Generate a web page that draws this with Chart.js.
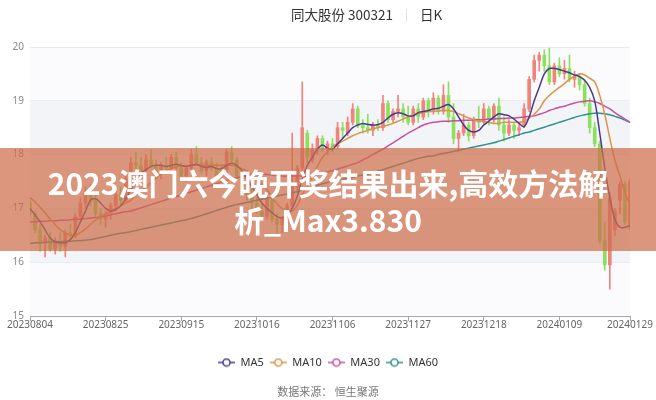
<!DOCTYPE html>
<html>
<head>
<meta charset="utf-8">
<script src="https://cdn.jsdelivr.net/npm/chart.js@4.4.1/dist/chart.umd.min.js"></script>
<style>
  html, body { margin: 0; padding: 0; background: #fff; }
  #wrap { position: relative; width: 656px; height: 400px; font-family: "Noto Sans CJK SC", "Noto Sans", sans-serif; overflow: hidden; }
  #chart { position: absolute; left: 0; top: 0; }
  .title { position: absolute; top: 5px; left: 291px; font-size: 13.5px; color: #333; white-space: nowrap; line-height: 18px; }
  .title .sep { display: inline-block; width: 1px; height: 13px; background: #e2e2e2; margin: 0 13px; vertical-align: -2px; }
  .banner { position: absolute; left: 0; top: 148px; width: 656px; height: 103px; box-sizing: border-box; padding-top: 16px;
            background: rgba(205,110,75,0.72); color: #fff; font-weight: bold; font-size: 30px; line-height: 37px; text-align: center; }
  .source { position: absolute; top: 383px; left: 0; width: 656px; text-align: center; font-size: 11px; color: #777; }
</style>
</head>
<body>
<div id="wrap">
  <canvas id="chart" width="656" height="400"></canvas>
  <div class="title">同大股份 300321<span class="sep"></span>日K</div>
  <div class="banner">2023澳门六今晚开奖结果出来,高效方法解<br>析_Max3.830</div>
  <div class="source">数据来源：&nbsp;恒生聚源</div>
</div>
<script>
// trading calendar: 20230804 .. 20240129, exchange holidays skipped
var startDay = '20230804', endDay = '20240129';
var holidays = ['20230929', '20231002', '20231003', '20231004', '20231005', '20231006', '20240101'];
var tickLabels = ['20230804', '20230825', '20230915', '20231016', '20231106', '20231127', '20231218', '20240109', '20240129'];

function fmt(d) {
    var m = d.getMonth() + 1, day = d.getDate();
    return d.getFullYear() + (m < 10 ? '0' : '') + m + (day < 10 ? '0' : '') + day;
}
var dates = [];
for (var d = new Date(2023, 7, 4); fmt(d) <= endDay; d.setDate(d.getDate() + 1)) {
    var wd = d.getDay();
    if (wd === 0 || wd === 6 || holidays.indexOf(fmt(d)) >= 0) continue;
    dates.push(fmt(d));
}

// daily K values
var opens = [
    17.10, 16.90, 16.60, 16.35, 16.45, 16.25, 16.40, 16.30, 16.55, 16.50,
    16.85, 17.10, 17.30, 17.15, 16.90, 16.80, 16.90, 17.05, 17.25, 17.15,
    17.55, 17.85, 17.80, 17.70, 17.90, 17.80, 17.65, 17.80, 17.75, 17.95,
    17.75, 17.60, 17.75, 18.00, 17.85, 17.70, 17.85, 17.75, 17.60, 17.70,
    18.05, 17.90, 17.60, 17.35, 17.25, 17.10, 16.95, 16.85, 17.20, 16.80,
    16.70, 16.80, 17.05, 17.40, 17.75, 18.40, 17.90, 18.10, 18.30, 18.10,
    18.20, 18.15, 18.50, 18.40, 18.60, 18.85, 18.55, 18.50, 18.45, 18.55,
    18.50, 18.95, 18.65, 18.80, 18.85, 18.70, 18.60, 18.85, 18.70, 19.00,
    18.80, 19.05, 18.80, 19.10, 18.70, 18.30, 18.40, 18.55, 18.35, 18.65,
    18.60, 18.85, 18.65, 18.90, 18.55, 18.40, 18.55, 18.45, 18.55, 18.85,
    19.40, 19.75, 19.85, 19.65, 19.35, 19.65, 19.50, 19.60, 19.40, 19.45,
    19.30, 18.95, 18.50, 18.20, 16.40, 15.95, 16.60, 17.15, 17.45, 16.70
];
var highs = [
    17.15, 16.95, 16.70, 16.50, 16.55, 16.45, 16.55, 16.60, 16.70, 16.90,
    17.20, 17.40, 17.45, 17.25, 17.00, 16.95, 17.10, 17.35, 17.40, 17.60,
    17.95, 18.05, 17.95, 18.00, 18.10, 17.90, 17.85, 17.95, 18.00, 18.05,
    17.85, 17.80, 18.10, 18.15, 17.95, 17.90, 17.95, 17.85, 17.80, 18.10,
    18.15, 17.95, 17.70, 17.50, 17.35, 17.20, 17.10, 17.30, 17.25, 16.90,
    16.85, 17.10, 18.40, 17.80, 19.35, 18.45, 18.20, 18.35, 18.35, 18.25,
    18.30, 18.60, 18.60, 18.70, 18.95, 18.90, 18.65, 18.75, 18.60, 18.65,
    19.10, 19.00, 18.85, 19.10, 18.95, 18.90, 18.90, 18.95, 19.05, 19.05,
    19.15, 19.10, 19.30, 19.35, 18.95, 18.45, 18.75, 18.60, 18.70, 18.90,
    18.95, 18.90, 18.95, 19.05, 18.70, 18.65, 18.60, 18.60, 18.95, 19.45,
    19.85, 19.90, 19.95, 19.98, 19.70, 19.80, 19.75, 19.85, 19.55, 19.50,
    19.40, 19.05, 18.60, 18.25, 16.75, 17.30, 17.00, 17.50, 17.50, 17.55
];
var lows = [
    16.85, 16.55, 16.20, 16.10, 16.20, 16.15, 16.20, 16.10, 16.40, 16.45,
    16.80, 17.00, 17.05, 16.85, 16.70, 16.65, 16.80, 16.95, 17.05, 17.10,
    17.50, 17.70, 17.60, 17.65, 17.75, 17.55, 17.55, 17.65, 17.70, 17.70,
    17.55, 17.50, 17.70, 17.80, 17.65, 17.60, 17.70, 17.55, 17.50, 17.65,
    17.85, 17.55, 17.30, 17.15, 17.00, 16.90, 16.80, 16.80, 16.75, 16.55,
    16.55, 16.75, 17.00, 17.30, 17.70, 17.85, 17.85, 18.00, 18.05, 18.00,
    18.05, 18.10, 18.30, 18.35, 18.55, 18.50, 18.40, 18.40, 18.35, 18.45,
    18.45, 18.60, 18.60, 18.70, 18.60, 18.55, 18.55, 18.60, 18.65, 18.70,
    18.75, 18.75, 18.75, 18.60, 18.20, 18.05, 18.35, 18.25, 18.30, 18.50,
    18.55, 18.55, 18.60, 18.45, 18.25, 18.35, 18.30, 18.35, 18.50, 18.80,
    19.35, 19.55, 19.55, 19.30, 19.30, 19.45, 19.40, 19.35, 19.25, 19.20,
    18.90, 18.40, 18.15, 16.35, 15.85, 15.50, 16.50, 16.90, 16.70, 16.60
];
var closes = [
    16.90, 16.60, 16.35, 16.45, 16.25, 16.40, 16.30, 16.55, 16.50, 16.85,
    17.10, 17.30, 17.15, 16.90, 16.80, 16.90, 17.05, 17.25, 17.15, 17.55,
    17.85, 17.80, 17.70, 17.90, 17.80, 17.65, 17.80, 17.75, 17.95, 17.75,
    17.60, 17.75, 18.00, 17.85, 17.70, 17.85, 17.75, 17.60, 17.70, 18.05,
    17.90, 17.60, 17.35, 17.25, 17.10, 16.95, 16.85, 17.20, 16.80, 16.70,
    16.80, 17.05, 17.40, 17.75, 18.50, 17.95, 18.10, 18.30, 18.10, 18.20,
    18.15, 18.50, 18.45, 18.60, 18.85, 18.55, 18.50, 18.45, 18.55, 18.50,
    18.95, 18.65, 18.80, 18.85, 18.70, 18.60, 18.85, 18.70, 19.00, 18.80,
    19.05, 18.80, 19.10, 18.70, 18.30, 18.40, 18.55, 18.35, 18.65, 18.60,
    18.85, 18.65, 18.90, 18.55, 18.40, 18.55, 18.45, 18.50, 18.85, 19.40,
    19.75, 19.85, 19.65, 19.35, 19.65, 19.50, 19.60, 19.40, 19.45, 19.30,
    18.95, 18.50, 18.20, 16.40, 15.95, 17.20, 16.95, 17.45, 16.75, 17.50
];

// moving averages
var ma5 = [
    17.00, 16.88, 16.75, 16.60, 16.45, 16.38, 16.36, 16.36, 16.42, 16.55,
    16.75, 16.95, 17.15, 17.18, 17.10, 17.00, 16.95, 16.98, 17.05, 17.18,
    17.35, 17.50, 17.65, 17.72, 17.78, 17.80, 17.80, 17.78, 17.80, 17.82,
    17.80, 17.78, 17.80, 17.82, 17.78, 17.76, 17.78, 17.74, 17.74, 17.80,
    17.84, 17.80, 17.70, 17.55, 17.40, 17.25, 17.10, 17.00, 16.92, 16.85,
    16.82, 16.88, 17.00, 17.22, 17.55, 17.80, 17.95, 18.10, 18.18, 18.12,
    18.10, 18.20, 18.30, 18.40, 18.50, 18.55, 18.58, 18.56, 18.55, 18.56,
    18.60, 18.68, 18.75, 18.78, 18.76, 18.72, 18.72, 18.78, 18.80, 18.82,
    18.85, 18.86, 18.90, 18.93, 18.85, 18.70, 18.55, 18.45, 18.42, 18.45,
    18.55, 18.62, 18.70, 18.76, 18.74, 18.72, 18.66, 18.58, 18.52, 18.70,
    19.00, 19.25, 19.50, 19.60, 19.60, 19.58, 19.55, 19.52, 19.48, 19.45,
    19.38, 19.25, 19.00, 18.40, 17.75, 17.20, 16.80, 16.65, 16.65, 16.68
];
var ma10 = [
    17.20, 17.12, 17.02, 16.92, 16.80, 16.70, 16.60, 16.55, 16.50, 16.50,
    16.55, 16.62, 16.70, 16.78, 16.85, 16.90, 16.95, 17.00, 17.05, 17.10,
    17.15, 17.25, 17.32, 17.40, 17.48, 17.56, 17.65, 17.70, 17.74, 17.78,
    17.78, 17.79, 17.80, 17.80, 17.80, 17.80, 17.80, 17.80, 17.80, 17.80,
    17.80, 17.78, 17.74, 17.70, 17.62, 17.55, 17.45, 17.35, 17.20, 17.08,
    17.00, 16.96, 16.95, 17.05, 17.25, 17.42, 17.60, 17.78, 17.95, 18.05,
    18.15, 18.20, 18.25, 18.30, 18.35, 18.39, 18.42, 18.45, 18.48, 18.50,
    18.52, 18.55, 18.58, 18.62, 18.66, 18.70, 18.74, 18.76, 18.78, 18.80,
    18.80, 18.81, 18.82, 18.82, 18.80, 18.76, 18.72, 18.68, 18.65, 18.62,
    18.62, 18.60, 18.58, 18.58, 18.60, 18.60, 18.60, 18.60, 18.62, 18.68,
    18.75, 18.85, 19.00, 19.10, 19.18, 19.25, 19.32, 19.40, 19.46, 19.50,
    19.48, 19.42, 19.35, 19.10, 18.75, 18.30, 17.90, 17.60, 17.30, 17.05
];
var ma30 = [
    16.75, 16.75, 16.76, 16.76, 16.77, 16.77, 16.78, 16.78, 16.79, 16.80,
    16.80, 16.81, 16.82, 16.83, 16.84, 16.86, 16.88, 16.90, 16.92, 16.94,
    16.95, 16.98, 17.01, 17.04, 17.07, 17.10, 17.13, 17.16, 17.20, 17.22,
    17.25, 17.28, 17.31, 17.34, 17.37, 17.40, 17.43, 17.46, 17.49, 17.52,
    17.55, 17.57, 17.59, 17.61, 17.63, 17.65, 17.64, 17.63, 17.62, 17.61,
    17.60, 17.60, 17.60, 17.60, 17.60, 17.60, 17.62, 17.64, 17.66, 17.68,
    17.70, 17.73, 17.76, 17.79, 17.82, 17.85, 17.90, 17.95, 18.00, 18.05,
    18.10, 18.16, 18.22, 18.28, 18.34, 18.40, 18.45, 18.50, 18.55, 18.58,
    18.60, 18.61, 18.62, 18.62, 18.63, 18.63, 18.64, 18.64, 18.65, 18.65,
    18.65, 18.66, 18.66, 18.67, 18.67, 18.68, 18.68, 18.69, 18.70, 18.71,
    18.72, 18.75, 18.78, 18.82, 18.85, 18.88, 18.90, 18.93, 18.96, 18.98,
    18.99, 19.00, 18.98, 18.95, 18.90, 18.85, 18.78, 18.72, 18.66, 18.60
];
var ma60 = [
    16.35, 16.36, 16.36, 16.37, 16.37, 16.38, 16.38, 16.39, 16.39, 16.40,
    16.40, 16.41, 16.42, 16.44, 16.46, 16.48, 16.50, 16.52, 16.54, 16.55,
    16.57, 16.59, 16.61, 16.63, 16.65, 16.67, 16.69, 16.71, 16.73, 16.75,
    16.77, 16.79, 16.81, 16.84, 16.87, 16.90, 16.93, 16.96, 16.99, 17.02,
    17.05, 17.07, 17.09, 17.11, 17.13, 17.15, 17.17, 17.19, 17.21, 17.23,
    17.25, 17.27, 17.29, 17.31, 17.34, 17.37, 17.40, 17.43, 17.46, 17.48,
    17.50, 17.52, 17.54, 17.56, 17.58, 17.60, 17.62, 17.64, 17.66, 17.69,
    17.72, 17.75, 17.78, 17.81, 17.84, 17.87, 17.90, 17.93, 17.95, 17.97,
    17.98, 18.00, 18.02, 18.04, 18.06, 18.08, 18.10, 18.12, 18.14, 18.16,
    18.18, 18.20, 18.22, 18.25, 18.28, 18.31, 18.34, 18.37, 18.40, 18.42,
    18.45, 18.48, 18.51, 18.54, 18.57, 18.60, 18.63, 18.66, 18.69, 18.72,
    18.74, 18.76, 18.77, 18.77, 18.76, 18.74, 18.71, 18.68, 18.64, 18.60
];

var upColor = '#f0837a', downColor = '#8be15e';
var maColors = { MA5: '#4a3a8c', MA10: '#dc9448', MA30: '#c8509e', MA60: '#33918b' };

// little "-o-" icon for the legend
function legendIcon(color) {
    var c = document.createElement('canvas');
    c.width = 17; c.height = 10;
    var g = c.getContext('2d');
    g.strokeStyle = color; g.lineWidth = 1.5;
    g.beginPath(); g.moveTo(0, 5); g.lineTo(17, 5); g.stroke();
    g.fillStyle = '#fff';
    g.beginPath(); g.arc(8.5, 5, 3.6, 0, Math.PI * 2); g.fill(); g.stroke();
    return c;
}

var candleColors = closes.map(function (c, i) { return c >= opens[i] ? upColor : downColor; });

function maSet(name, data) {
    return {
        type: 'line', label: name, data: data,
        borderColor: maColors[name], backgroundColor: maColors[name], borderWidth: 1.5,
        pointRadius: 0, pointHoverRadius: 0, pointStyle: legendIcon(maColors[name]),
        tension: 0.35, order: 1
    };
}

// alternating background bands between y grid lines
var bandPlugin = {
    id: 'bands',
    beforeDraw: function (chart) {
        var ctx = chart.ctx, area = chart.chartArea, y = chart.scales.y;
        ctx.save();
        for (var v = y.min; v < y.max; v++) {
            var top = y.getPixelForValue(v + 1), bottom = y.getPixelForValue(v);
            ctx.fillStyle = (v % 2 === 0) ? '#f2f4f8' : '#fbfbfd';
            ctx.fillRect(area.left, top, area.right - area.left, bottom - top);
        }
        ctx.restore();
    }
};

Chart.defaults.font.family = '"Noto Sans", "Noto Sans CJK SC", sans-serif';

new Chart(document.getElementById('chart').getContext('2d'), {
    data: {
        labels: dates,
        datasets: [
            { type: 'bar', label: 'wick', data: lows.map(function (l, i) { return [l, highs[i]]; }),
              backgroundColor: candleColors, barThickness: 1, grouped: false, order: 3 },
            { type: 'bar', label: 'body', data: opens.map(function (o, i) { return [o, closes[i]]; }),
              backgroundColor: candleColors, barThickness: 3, minBarLength: 1, grouped: false, order: 2 },
            maSet('MA5', ma5),
            maSet('MA10', ma10),
            maSet('MA30', ma30),
            maSet('MA60', ma60)
        ]
    },
    options: {
        responsive: false,
        animation: false,
        layout: { padding: { top: 47, right: 0, bottom: 22, left: 0 } },
        scales: {
            x: {
                offset: false,
                grid: {
                    offset: false, drawOnChartArea: false, tickLength: 5,
                    tickColor: function (c) { return tickLabels.indexOf(dates[c.index]) >= 0 ? '#a8a8a8' : 'rgba(0,0,0,0)'; }
                },
                border: { color: '#a8a8a8' },
                ticks: {
                    autoSkip: false, maxRotation: 0, padding: -2, color: '#666', font: { size: 10 },
                    callback: function (v) {
                        var lab = this.getLabelForValue(v);
                        return tickLabels.indexOf(lab) >= 0 ? lab : '';
                    }
                },
                afterFit: function (s) { s.height += 22; }
            },
            y: {
                min: 15, max: 20,
                grid: { color: '#e8ebf0', drawTicks: false },
                border: { display: false },
                ticks: { stepSize: 1, padding: 6, color: '#888', font: { size: 10 } },
                afterFit: function (s) { s.width = 30; }
            },
            // empty right margin so the legend centres on the whole page
            yRight: {
                position: 'right', display: true,
                grid: { display: false }, border: { display: false }, ticks: { display: false },
                afterFit: function (s) { s.width = 26; }
            }
        },
        plugins: {
            tooltip: { enabled: false },
            legend: {
                position: 'bottom',
                labels: {
                    usePointStyle: true, pointStyleWidth: 17, padding: 6, color: '#333', font: { size: 11 },
                    filter: function (item) { return item.text.indexOf('MA') === 0; }
                }
            }
        }
    },
    plugins: [bandPlugin]
});
</script>
</body>
</html>
